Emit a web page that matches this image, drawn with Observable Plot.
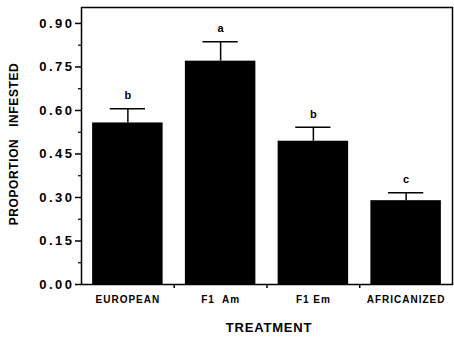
<!DOCTYPE html>
<html>
<head>
<meta charset="utf-8">
<script src="https://cdn.jsdelivr.net/npm/d3@7"></script>
<script src="https://cdn.jsdelivr.net/npm/@observablehq/plot@0.6"></script>
<style>
  html, body { margin: 0; padding: 0; background: #fff; }
</style>
</head>
<body>
<div id="chart"></div>
<script>
const categories = ["EUROPEAN", "F1  Am", "F1 Em", "AFRICANIZED"];
const values = [0.557, 0.770, 0.494, 0.289];
const upperErr = [0.606, 0.837, 0.542, 0.316];
const letters = ["b", "a", "b", "c"];
const yTicks = [0, 0.15, 0.30, 0.45, 0.60, 0.75, 0.90];
const yMinor = [0.075, 0.225, 0.375, 0.525, 0.675, 0.825];
const xLabel = "TREATMENT";
const yLabel = "PROPORTION   INFESTED";

const data = categories.map((c, i) => ({i, c, value: values[i], upper: upperErr[i], letter: letters[i]}));
const font = "'Liberation Sans', Arial, Helvetica, sans-serif";

const chart = Plot.plot({
  width: 454, height: 337,
  marginLeft: 81, marginRight: 2, marginTop: 7, marginBottom: 53,
  x: {domain: [0, 4], axis: null},
  y: {domain: [0, 0.955], axis: null},
  style: {fontFamily: font, background: "#fff", color: "#000"},
  marks: [
    Plot.rect(data, {x1: d => d.i + 0.12, x2: d => d.i + 0.88, y1: 0, y2: "value", fill: "#000"}),
    Plot.ruleX(data, {x: d => d.i + 0.5, y1: "value", y2: "upper", stroke: "#000", strokeWidth: 1.5}),
    Plot.ruleY(data, {y: "upper", x1: d => d.i + 0.31, x2: d => d.i + 0.69, stroke: "#000", strokeWidth: 1.5}),
    Plot.text(data, {x: d => d.i + 0.5, y: "upper", text: "letter", dy: -13, fontWeight: "bold", fontSize: 11, fill: "#000"}),
    Plot.frame({stroke: "#000", strokeWidth: 1.5}),
    Plot.axisY({ticks: yTicks, tickFormat: d3.format(".2f"), tickSize: 6, tickPadding: 1, fontSize: 13, fontWeight: "bold", strokeWidth: 1.5, label: null}),
    Plot.axisY({ticks: yMinor, tickSize: 3, text: null, strokeWidth: 1.2, label: null}),
    Plot.axisX({ticks: [1, 2, 3], tickSize: 4, text: null, strokeWidth: 1.5, label: null}),
    Plot.axisX({ticks: [0.5, 1.5, 2.5, 3.5], tickSize: 0, tickPadding: 11, tickFormat: d => categories[Math.floor(d)], fontSize: 10, fontWeight: "bold", label: null}),
    Plot.text([yLabel], {text: d => d, frameAnchor: "left", textAnchor: "middle", rotate: -90, dx: -67, dy: -2, fontSize: 12, fontWeight: "bold", fill: "#000"}),
    Plot.text([xLabel], {text: d => d, frameAnchor: "bottom", dy: 47, dx: 2, fontSize: 13, fontWeight: "bold", fill: "#000"})
  ]
});

const svg = d3.select(chart);
svg.selectAll('g[aria-label="y-axis tick label"] text').attr("letter-spacing", "2.5");
svg.selectAll('g[aria-label="x-axis tick label"] text').attr("letter-spacing", "1").style("white-space", "pre");
svg.selectAll("text").filter(function() { return this.textContent === yLabel; }).attr("letter-spacing", "0.6").style("white-space", "pre");
svg.selectAll("text").filter(function() { return this.textContent === xLabel; }).attr("letter-spacing", "0.8");
document.getElementById("chart").appendChild(chart);
</script>
</body>
</html>
